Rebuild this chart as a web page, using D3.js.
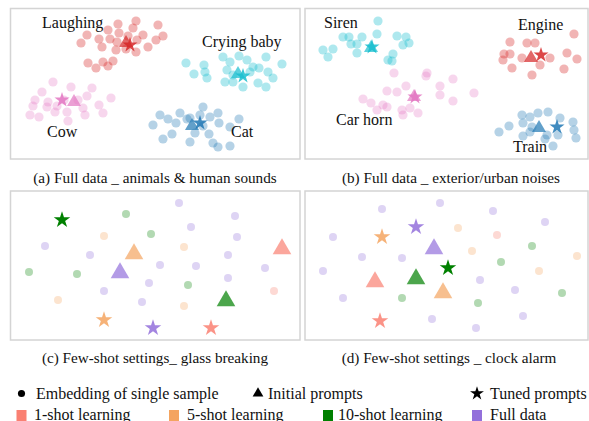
<!DOCTYPE html>
<html>
<head>
<meta charset="utf-8">
<script src="https://cdn.jsdelivr.net/npm/d3@7"></script>
<style>
  html, body { margin: 0; padding: 0; background: #fff; }
  svg text { font-family: "Liberation Serif", "Times New Roman", serif; fill: #111; }
</style>
</head>
<body>
<svg id="chart" width="589" height="421"></svg>
<script>
// t-SNE style embedding plots, four panels + shared legend

// ---- panel (a): animals & human sounds ----
const laughingPts = [[118,24],[136,21],[158,25],[87,35],[108,30],[119,33],[133,28],[143,35],[163,36],[81,43],[99,39],[110,39],[117,42],[128,36],[137,40],[156,40],[148,47],[102,47],[116,50],[126,49],[136,52],[88,63],[96,68],[103,62],[108,66],[113,61]];
const cryingPts = [[186,63],[194,74],[205,72],[207,78],[223,57],[230,62],[239,56],[247,60],[253,67],[266,57],[282,64],[204,65],[227,70],[233,75],[225,82],[233,82],[243,87],[250,72],[259,68],[268,72],[258,83],[266,87],[273,78]];
const cowPts = [[53,82],[42,92],[71,87],[92,88],[35,100],[48,102],[33,106],[57,106],[64,100],[87,96],[111,98],[30,115],[39,117],[55,112],[67,112],[83,108],[85,115],[99,105],[103,113],[68,121],[78,100],[47,107]];
const catPts = [[153,125],[160,115],[168,119],[180,113],[190,118],[203,107],[210,117],[218,113],[219,123],[230,127],[239,119],[163,139],[172,134],[176,123],[195,133],[203,126],[209,134],[190,142],[213,143],[218,147],[230,146],[187,119],[200,115]];
const promptsA = [
  {name: "Laughing", init: [126,43], tuned: [130,45]},
  {name: "Crying baby", init: [238,74], tuned: [243,76]},
  {name: "Cow", init: [74,102], tuned: [62,100]},
  {name: "Cat", init: [192,126], tuned: [200,123]}
];

// ---- panel (b): exterior/urban noises ----
const sirenPts = [[378,21],[343,37],[349,37],[362,37],[377,34],[397,36],[406,37],[409,43],[403,45],[323,50],[333,49],[328,57],[357,44],[357,53],[393,54],[388,60],[392,61],[351,44]];
const enginePts = [[574,34],[510,42],[527,43],[535,43],[504,54],[510,54],[522,58],[503,60],[512,68],[532,75],[540,65],[550,58],[567,53],[577,59],[564,69]];
const carHornPts = [[394,73],[427,73],[426,76],[453,79],[387,91],[397,92],[406,86],[440,86],[440,95],[474,93],[363,99],[371,103],[383,105],[387,107],[377,110],[402,110],[410,108],[418,113],[403,115],[453,101]];
const trainPts = [[522,115],[530,117],[538,113],[548,112],[560,118],[573,122],[499,132],[509,126],[523,123],[530,132],[523,136],[547,135],[558,135],[574,130],[576,138],[553,146],[545,139],[532,127]];
const promptsB = [
  {name: "Siren", init: [371,48], tuned: [372,47]},
  {name: "Engine", init: [531,58], tuned: [541,55]},
  {name: "Car horn", init: [414,97], tuned: [415,97]},
  {name: "Train", init: [539,128], tuned: [557,127]}
];

// ---- panel (c): glass breaking, few-shot ----
const glassFull = [[179,203],[235,216],[191,227],[237,237],[45,246],[90,255],[228,255],[160,265],[196,266],[265,268],[228,278],[149,283],[104,291],[142,302]];
const glass10 = [[126,214],[151,234],[29,272],[77,274],[188,285]];
const glass5 = [[104,236],[184,247],[58,300],[184,306]];
const glass1 = [[274,291]];
const glassInit = {one: [282,249], five: [134,254], ten: [226,301], full: [120,273]};
const glassTuned = {one: [211,328], five: [104,320], ten: [62,220], full: [153,328]};

// ---- panel (d): clock alarm, few-shot ----
const clockFull = [[382,209],[440,203],[493,211],[545,222],[333,237],[362,257],[402,258],[323,271],[480,280],[515,290],[343,298],[523,316],[432,319],[476,328]];
const clock10 = [[532,246],[501,262],[402,298],[478,303],[562,293]];
const clock5 = [[458,228],[472,251],[577,256],[539,271]];
const clock1 = [[497,235]];
const clockInit = {one: [375,282], five: [443,293], ten: [416,279], full: [434,249]};
const clockTuned = {one: [380,321], five: [382,237], ten: [448,268], full: [416,227]};

const captions = [
  "(a) Full data _ animals & human sounds",
  "(b) Full data _ exterior/urban noises",
  "(c) Few-shot settings_ glass breaking",
  "(d) Few-shot settings _ clock alarm"
];
const markerLegend = ["Embedding of single sample", "Initial prompts", "Tuned prompts"];
const shotLegend = ["1-shot learning", "5-shot learning", "10-shot learning", "Full data"];

// ---- drawing ----
const svg = d3.select("#chart");
const tab = {red: "#d62728", cyan: "#17becf", pink: "#e377c2", blue: "#1f77b4"};
const shotColor = {one: "#fa8072", five: "#f4a460", ten: "#008000", full: "#9370db"};

// panel frames, in the same units as the embedding coords
const panels = [
  {x0: 10.5, x1: 300, y0: 8.5, y1: 159, cap: [155, 183]},
  {x0: 305, x1: 588, y0: 8.5, y1: 159, cap: [451, 183]},
  {x0: 10.5, x1: 300, y0: 191, y1: 340, cap: [155, 363]},
  {x0: 305, x1: 588, y0: 191, y1: 340, cap: [449, 363]}
];

function makePanel(p, i) {
  const x = d3.scaleLinear().domain([p.x0, p.x1]).range([p.x0, p.x1]);
  const y = d3.scaleLinear().domain([p.y0, p.y1]).range([p.y0, p.y1]);
  const g = svg.append("g");
  g.append("rect")
    .attr("x", x(p.x0)).attr("y", y(p.y0))
    .attr("width", x(p.x1) - x(p.x0)).attr("height", y(p.y1) - y(p.y0))
    .attr("fill", "#fff").attr("stroke", "#d4d4d4").attr("stroke-width", 1.5);
  svg.append("text")
    .attr("x", p.cap[0]).attr("y", p.cap[1])
    .attr("text-anchor", "middle")
    .attr("font-size", 15.2)
    .text(captions[i]);
  return {g, x, y};
}

function dots(P, pts, color, r, op) {
  P.g.append("g").selectAll("circle")
    .data(pts)
    .join("circle")
    .attr("cx", d => P.x(d[0]))
    .attr("cy", d => P.y(d[1]))
    .attr("r", r)
    .attr("fill", color)
    .attr("opacity", op);
}

function marker(P, d, type, size, color, op) {
  P.g.append("path")
    .attr("transform", `translate(${P.x(d[0])},${P.y(d[1])})`)
    .attr("d", d3.symbol().type(type).size(size)())
    .attr("fill", color)
    .attr("opacity", op);
}

function label(P, txt, xx, yy) {
  P.g.append("text")
    .attr("x", xx).attr("y", yy)
    .attr("font-size", 16)
    .text(txt);
}

const [A, B, C, D] = panels.map(makePanel);

// (a)
dots(A, laughingPts, tab.red, 4.6, 0.35);
dots(A, cryingPts, tab.cyan, 4.6, 0.35);
dots(A, cowPts, tab.pink, 4.6, 0.3);
dots(A, catPts, tab.blue, 4.6, 0.33);
const colsA = [tab.red, tab.cyan, tab.pink, tab.blue];
promptsA.forEach((c, k) => {
  marker(A, c.init, d3.symbolTriangle, 85, colsA[k], 0.7);
  marker(A, c.tuned, d3.symbolStar, 70, colsA[k], 0.85);
});
label(A, "Laughing", 42, 28);
label(A, "Crying baby", 202, 47);
label(A, "Cow", 47, 137);
label(A, "Cat", 231, 137);

// (b)
dots(B, sirenPts, tab.cyan, 4.6, 0.35);
dots(B, enginePts, tab.red, 4.6, 0.35);
dots(B, carHornPts, tab.pink, 4.6, 0.3);
dots(B, trainPts, tab.blue, 4.6, 0.33);
promptsB.forEach((c, k) => {
  const col = [tab.cyan, tab.red, tab.pink, tab.blue][k];
  marker(B, c.init, d3.symbolTriangle, 85, col, 0.7);
  marker(B, c.tuned, d3.symbolStar, 70, col, 0.85);
});
label(B, "Siren", 324, 28);
label(B, "Engine", 518, 30);
label(B, "Car horn", 336, 125);
label(B, "Train", 513, 152);

// (c) and (d)
function fewShot(P, full, ten, five, one, init, tuned) {
  dots(P, full, shotColor.full, 4, 0.3);
  dots(P, ten, shotColor.ten, 4, 0.3);
  dots(P, five, shotColor.five, 4, 0.3);
  dots(P, one, shotColor.one, 4, 0.3);
  ["one", "five", "ten", "full"].forEach(k => {
    marker(P, init[k], d3.symbolTriangle, 150, shotColor[k], 0.7);
  });
  ["one", "five", "ten", "full"].forEach(k => {
    marker(P, tuned[k], d3.symbolStar, 85, shotColor[k], k === "ten" ? 1 : 0.85);
  });
}
fewShot(C, glassFull, glass10, glass5, glass1, glassInit, glassTuned);
fewShot(D, clockFull, clock10, clock5, clock1, clockInit, clockTuned);

// legend row 1: marker shapes
const leg = svg.append("g");
const shapeX = [21.5, 258, 477];
const shapeTypes = [d3.symbolCircle, d3.symbolTriangle, d3.symbolStar];
const shapeSize = [40, 50, 60];
const textX = [36, 268, 490];
markerLegend.forEach((t, k) => {
  leg.append("path")
    .attr("transform", `translate(${shapeX[k]},393.5)`)
    .attr("d", d3.symbol().type(shapeTypes[k]).size(shapeSize[k])())
    .attr("fill", "#000");
  leg.append("text")
    .attr("x", textX[k]).attr("y", 398.5)
    .attr("font-size", 16)
    .text(t);
});

// legend row 2: colours (bottom edge clips it, as in the source figure)
const sqX = [21.5, 174, 328, 477];
const sqText = [34, 187, 338, 490];
const sqCols = [shotColor.one, shotColor.five, shotColor.ten, shotColor.full];
shotLegend.forEach((t, k) => {
  leg.append("rect")
    .attr("x", sqX[k] - 5).attr("y", 410)
    .attr("width", 10).attr("height", 11)
    .attr("fill", sqCols[k]);
  leg.append("text")
    .attr("x", sqText[k]).attr("y", 419.5)
    .attr("font-size", 16)
    .text(t);
});
</script>
</body>
</html>
